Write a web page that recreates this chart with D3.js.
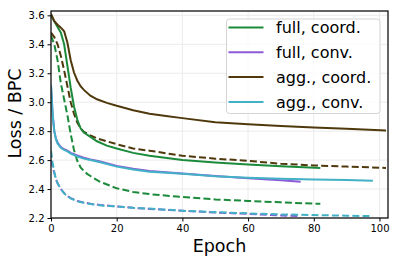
<!DOCTYPE html>
<html><head><meta charset="utf-8">
<script src="https://cdn.jsdelivr.net/npm/d3@7"></script>
<style>body{margin:0;background:#fff}svg{display:block}text{font-family:"DejaVu Sans",sans-serif}</style>
</head><body><div id="chart"></div>
<script>
// ---- data ----
const xTicks = [0, 20, 40, 60, 80, 100];
const yTicks = [2.2, 2.4, 2.6, 2.8, 3.0, 3.2, 3.4, 3.6];
const seriesNames = ["full, coord.", "full, conv.", "agg., coord.", "agg., conv."];
const seriesColors = ["#1b8a3b", "#8c5ad6", "#4f390c", "#42b1c6"];

const fullCoordEpochs = [0,1,2,3,4,5,6,7,8,9,10,12,14,17,20,25,30,40,50,60,70,82];
const fullCoordSolid  = [3.60,3.56,3.52,3.48,3.40,3.25,3.10,2.97,2.88,2.82,2.79,2.76,2.73,2.70,2.68,2.65,2.63,2.60,2.583,2.57,2.557,2.545];
const fullCoordDashEpochs = [0,1,2,3,4,5,6,7,8,9,10,11,12,13,15,20,25,30,40,50,60,70,82];
const fullCoordDashed = [3.46,3.40,3.29,3.13,3.02,2.91,2.78,2.67,2.595,2.55,2.525,2.505,2.49,2.475,2.45,2.405,2.38,2.365,2.345,2.328,2.318,2.308,2.298];

const fullConvEpochs = [0,0.5,1,1.5,2,3,4,5,6,8,10,12,15,20,25,30,40,50,60,70,76];
const fullConvSolid  = [3.11,2.91,2.80,2.75,2.72,2.69,2.675,2.665,2.65,2.632,2.617,2.605,2.59,2.56,2.54,2.525,2.508,2.49,2.474,2.46,2.45];
const fullConvDashed = [2.60,2.56,2.51,2.47,2.44,2.40,2.372,2.352,2.337,2.318,2.307,2.298,2.29,2.28,2.27,2.263,2.25,2.238,2.228,2.218,2.212];

const aggCoordEpochs = [0,1,2,3,4,5,6,7,8,9,10,12,14,17,20,25,30,35,40,50,60,70,80,90,102];
const aggCoordSolid  = [3.61,3.56,3.535,3.515,3.49,3.41,3.29,3.205,3.15,3.11,3.085,3.045,3.02,2.995,2.975,2.945,2.92,2.905,2.89,2.862,2.848,2.836,2.826,2.816,2.805];
const aggCoordDashEpochs = [0,1,2,3,4,5,6,7,8,9,10,12,14,17,20,25,30,40,50,60,70,80,90,102];
const aggCoordDashed = [3.48,3.45,3.40,3.32,3.22,3.11,3.00,2.92,2.86,2.82,2.795,2.77,2.75,2.73,2.71,2.68,2.665,2.63,2.61,2.595,2.575,2.563,2.555,2.546];

const aggConvEpochs = [0,0.5,1,1.5,2,3,4,5,6,8,10,12,15,20,25,30,40,50,60,70,80,90,98];
const aggConvSolid  = [3.12,2.92,2.80,2.745,2.715,2.685,2.67,2.66,2.645,2.625,2.61,2.60,2.585,2.555,2.535,2.52,2.505,2.488,2.478,2.471,2.466,2.462,2.458];
const aggConvDashEpochs = [0,0.5,1,1.5,2,3,4,5,6,8,10,13,16,20,25,30,40,50,60,70,80,90,98];
const aggConvDashed = [2.665,2.58,2.52,2.47,2.44,2.40,2.37,2.35,2.335,2.315,2.305,2.293,2.285,2.28,2.27,2.265,2.25,2.24,2.232,2.225,2.22,2.216,2.213];

// ---- layout ----
const W = 399, H = 264;
const M = {left: 51, right: 388, top: 11, bottom: 218};
const svg = d3.select("#chart").append("svg").attr("width", W).attr("height", H);

const x = d3.scaleLinear().domain([0, 102.6]).range([M.left, M.right]);
const y = d3.scaleLinear().domain([2.2, 3.63]).range([M.bottom, M.top]);

// grid
svg.append("g").selectAll("line").data(xTicks).join("line")
  .attr("x1", d => x(d)).attr("x2", d => x(d)).attr("y1", M.top).attr("y2", M.bottom)
  .attr("stroke", "#ebebeb").attr("stroke-width", 1);
svg.append("g").selectAll("line").data(yTicks).join("line")
  .attr("x1", M.left).attr("x2", M.right).attr("y1", d => y(d)).attr("y2", d => y(d))
  .attr("stroke", "#ebebeb").attr("stroke-width", 1);

svg.append("defs").append("clipPath").attr("id", "clip").append("rect")
  .attr("x", M.left).attr("y", M.top).attr("width", M.right - M.left).attr("height", M.bottom - M.top);

const line = d3.line().x(d => x(d[0])).y(d => y(d[1]));
const zip = (a, b) => a.map((v, i) => [v, b[i]]);
const plotData = [
  {xs: fullCoordDashEpochs, ys: fullCoordDashed, c: 0, dash: true},
  {xs: fullConvEpochs, ys: fullConvDashed, c: 1, dash: true},
  {xs: aggCoordDashEpochs, ys: aggCoordDashed, c: 2, dash: true},
  {xs: aggConvDashEpochs, ys: aggConvDashed, c: 3, dash: true},
  {xs: fullCoordEpochs, ys: fullCoordSolid, c: 0, dash: false},
  {xs: fullConvEpochs, ys: fullConvSolid, c: 1, dash: false},
  {xs: aggCoordEpochs, ys: aggCoordSolid, c: 2, dash: false},
  {xs: aggConvEpochs, ys: aggConvSolid, c: 3, dash: false},
];
const g = svg.append("g").attr("clip-path", "url(#clip)");
plotData.forEach(s => {
  g.append("path").datum(zip(s.xs, s.ys))
    .attr("d", line).attr("fill", "none")
    .attr("stroke", seriesColors[s.c]).attr("stroke-width", 2)
    .attr("stroke-dasharray", s.dash ? "7,3.2" : null);
});

// axes
const xAxis = d3.axisBottom(x).tickValues(xTicks).tickSize(3.5).tickPadding(3).tickFormat(d3.format("d"));
const yAxis = d3.axisLeft(y).tickValues(yTicks).tickSize(3.5).tickPadding(3).tickFormat(d3.format(".1f"));
const gx = svg.append("g").attr("transform", `translate(0,${M.bottom})`).call(xAxis);
const gy = svg.append("g").attr("transform", `translate(${M.left},0)`).call(yAxis);
[gx, gy].forEach(a => {
  a.select(".domain").remove();
  a.selectAll("text").attr("font-size", 10).attr("fill", "#000").attr("font-family", "DejaVu Sans");
  a.selectAll("line").attr("stroke", "#000").attr("stroke-width", 1);
});
svg.append("rect").attr("x", M.left).attr("y", M.top).attr("width", M.right - M.left).attr("height", M.bottom - M.top)
  .attr("fill", "none").attr("stroke", "#111").attr("stroke-width", 1.3);

// titles
svg.append("text").attr("x", (M.left + M.right) / 2).attr("y", 251.5).attr("text-anchor", "middle")
  .attr("font-size", 17.5).text("Epoch");
svg.append("text").attr("transform", "translate(21,113.5) rotate(-90)").attr("text-anchor", "middle")
  .attr("font-size", 17.5).text("Loss / BPC");

// legend
const lg = svg.append("g");
lg.append("rect").attr("x", 226.5).attr("y", 19).attr("width", 153.5).attr("height", 94.5).attr("rx", 3)
  .attr("fill", "rgba(255,255,255,0.8)").attr("stroke", "#d4d4d4").attr("stroke-width", 1);
seriesNames.forEach((n, i) => {
  const yy = 27.5 + i * 24.8;
  lg.append("line").attr("x1", 228.5).attr("x2", 263.5).attr("y1", yy).attr("y2", yy)
    .attr("stroke", seriesColors[i]).attr("stroke-width", 2);
  lg.append("text").attr("x", 276).attr("y", yy).attr("dy", "0.35em").attr("font-size", 16).text(n);
});
</script></body></html>
